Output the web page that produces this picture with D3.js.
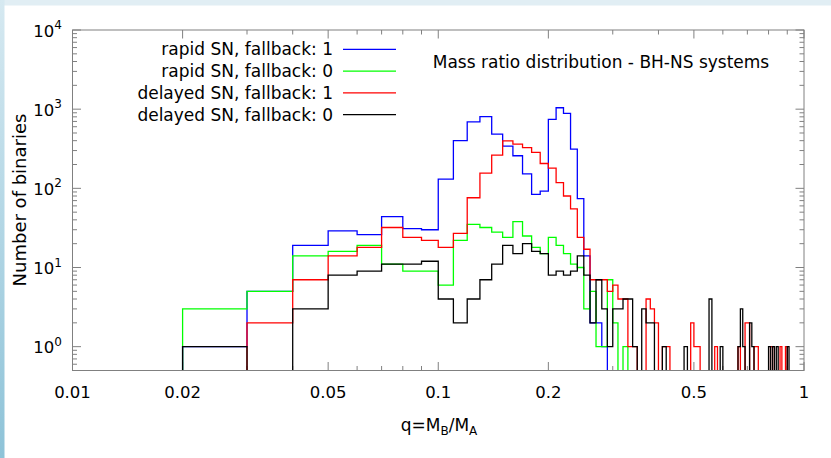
<!DOCTYPE html>
<html><head><meta charset="utf-8">
<script src="https://cdn.jsdelivr.net/npm/d3@7"></script>
<style>
body{margin:0;background:#fff}
svg{display:block}
text{font-family:"DejaVu Sans",sans-serif;fill:#000}
</style>
</head><body>
<svg id="c" width="831" height="458"></svg>
<script>
// lower edges of the q bins (width 0.01)
const binStarts = [
 0.01,0.02,0.03,0.04,0.05,0.06,0.07,0.08,0.09,0.10,
 0.11,0.12,0.13,0.14,0.15,0.16,0.17,0.18,0.19,0.20,
 0.21,0.22,0.23,0.24,0.25,0.26,0.27,0.28,0.29,0.30,
 0.31,0.32,0.33,0.34,0.35,0.36,0.37,0.38,0.39,0.40,
 0.41,0.42,0.43,0.44,0.45,0.46,0.47,0.48,0.49,0.50,
 0.51,0.52,0.53,0.54,0.55,0.56,0.57,0.58,0.59,0.60,
 0.61,0.62,0.63,0.64,0.65,0.66,0.67,0.68,0.69,0.70,
 0.71,0.72,0.73,0.74,0.75,0.76,0.77,0.78,0.79,0.80,
 0.81,0.82,0.83,0.84,0.85,0.86,0.87,0.88,0.89,0.90,
 0.91,0.92,0.93,0.94,0.95,0.96,0.97,0.98,0.99];
const binEnd = 1.0;

const rapidFb1 = [
 0,1,5,19,29,26,44,31,30,131,
 400,693,805,483,342,258,152,84,92,743,
 1042,885,313,74,14,2,2,1,0,0,
 0,0,0,0,0,0,0,0,0,0,
 0,0,0,0,0,0,0,0,0,0,
 0,0,0,0,0,0,0,0,0,0,
 0,0,0,0,0,0,0,0,0,0,
 0,0,0,0,0,0,0,0,0,0,
 0,0,0,0,0,0,0,0,0,0,
 0,0,0,0,0,0,0,0,0];
const rapidFb0 = [
 0,3,5,14,16,19,11,9,9,6,
 22,35,32,28,24,38,25,18,15,24,
 19,15,11,10,3,5,1,1,7,2,
 0,1,0,0,0,0,0,0,0,0,
 0,0,0,0,0,0,0,0,0,0,
 0,0,0,0,0,0,0,0,0,0,
 0,0,0,0,0,0,0,0,0,0,
 0,0,0,0,0,0,0,0,0,0,
 0,0,0,0,0,0,0,0,0,0,
 0,0,0,0,0,0,0,0,0];
const delayedFb1 = [
 0,0,2,7,14,18,32,24,22,18,
 27,76,156,263,397,362,326,285,206,180,
 118,80,55,24,17,7,7,7,5,6,
 4,4,1,1,0,0,4,3,2,0,
 1,1,0,0,0,0,0,0,2,1,
 1,0,0,0,0,0,1,0,0,0,
 0,0,0,0,0,1,0,0,2,2,
 0,0,1,1,0,0,0,0,0,0,
 1,1,0,0,0,1,0,0,1,0,
 0,0,0,0,0,0,0,0,0];
const delayedFb0 = [
 0,1,0,3,8,9,11,11,12,4,
 2,4,7,11,19,15,20,16,15,8,
 9,8,9,14,8,2,7,3,1,3,
 3,4,4,1,0,3,2,2,0,0,
 1,0,0,0,0,0,1,0,0,0,
 0,0,0,0,4,0,0,0,1,0,
 0,0,0,0,0,1,3,1,0,0,
 2,1,0,0,0,0,0,0,0,1,
 0,1,0,1,0,0,0,0,0,1,
 0,0,0,0,0,0,0,0,0];

const seriesNames = ["rapid SN, fallback: 1","rapid SN, fallback: 0","delayed SN, fallback: 1","delayed SN, fallback: 0"];
const seriesColors = ["#0000ff","#00ff00","#ff0000","#000000"];
const seriesValues = [rapidFb1, rapidFb0, delayedFb1, delayedFb0];

const xMajorTicks = [0.01,0.02,0.05,0.1,0.2,0.5,1];
const xMajorLabels = ["0.01","0.02","0.05","0.1","0.2","0.5","1"];
const xMinorTicks = [0.03,0.04,0.06,0.07,0.08,0.09,0.3,0.4,0.6,0.7,0.8,0.9];
const yMajorTicks = [1,10,100,1000,10000];
const yMajorExps = ["0","1","2","3","4"];
const yMinorTicks = [0.6,0.7,0.8,0.9,2,3,4,5,6,7,8,9,20,30,40,50,60,70,80,90,
  200,300,400,500,600,700,800,900,2000,3000,4000,5000,6000,7000,8000,9000];

const W=831,H=458;
const L=72.5,R=804,T=30,B=370.5;
const svg=d3.select("#c");

// page background strips
const defs=svg.append("defs");
const g1=defs.append("linearGradient").attr("id","lg").attr("x1",0).attr("y1",0).attr("x2",0).attr("y2",1);
g1.append("stop").attr("offset","0%").attr("stop-color","#d6e9f1");
g1.append("stop").attr("offset","100%").attr("stop-color","#8ec3d8");
svg.append("rect").attr("x",0).attr("y",0).attr("width",W).attr("height",H).attr("fill","#fff");
svg.append("rect").attr("x",0).attr("y",0).attr("width",W).attr("height",5.5).attr("fill","#e1eef4");
svg.append("rect").attr("x",0).attr("y",0).attr("width",4.5).attr("height",H).attr("fill","url(#lg)");

defs.append("clipPath").attr("id","clip").append("rect")
  .attr("x",L).attr("y",T).attr("width",R-L).attr("height",B-T);

const x=d3.scaleLog().domain([0.01,1]).range([L,R]);
const y=d3.scaleLog().domain([0.5,10000]).range([B,T]);

const axisCol="#808080";
const gAx=svg.append("g");
// ticks
function xt(v,len){
  gAx.append("line").attr("x1",x(v)).attr("x2",x(v)).attr("y1",B).attr("y2",B-len).attr("stroke",axisCol);
  gAx.append("line").attr("x1",x(v)).attr("x2",x(v)).attr("y1",T).attr("y2",T+len).attr("stroke",axisCol);
}
function yt(v,len){
  gAx.append("line").attr("y1",y(v)).attr("y2",y(v)).attr("x1",L).attr("x2",L+len).attr("stroke",axisCol);
  gAx.append("line").attr("y1",y(v)).attr("y2",y(v)).attr("x1",R).attr("x2",R-len).attr("stroke",axisCol);
}
xMajorTicks.forEach(v=>xt(v,8.5));
xMinorTicks.forEach(v=>xt(v,4.5));
yMajorTicks.forEach(v=>yt(v,8.5));
yMinorTicks.forEach(v=>yt(v,4.5));

xMajorTicks.forEach((v,i)=>{
  svg.append("text").attr("x",x(v)).attr("y",398).attr("text-anchor","middle")
    .attr("font-size",16.5).text(xMajorLabels[i]);
});
yMajorTicks.forEach((v,i)=>{
  const t=svg.append("text").attr("x",62).attr("y",y(v)+6.5).attr("text-anchor","end").attr("font-size",16.5);
  t.append("tspan").text("10");
  t.append("tspan").attr("dy",-7.5).attr("font-size",12).text(yMajorExps[i]);
});

// histogram steps
const plot=svg.append("g").attr("clip-path","url(#clip)");
const line=d3.line().x(d=>x(d[0])).y(d=>y(d[1]>0?d[1]:0.3)).curve(d3.curveStepAfter);
seriesValues.forEach((vals,si)=>{
  const pts=binStarts.map((q,i)=>[q,vals[i]]);
  pts.push([binEnd,vals[vals.length-1]]);
  plot.append("path").attr("d",line(pts)).attr("fill","none")
    .attr("stroke",seriesColors[si]).attr("stroke-width",1.3).attr("stroke-linejoin","miter");
});

// frame
svg.append("rect").attr("x",L).attr("y",T).attr("width",R-L).attr("height",B-T)
  .attr("fill","none").attr("stroke",axisCol).attr("stroke-width",1);

// legend
seriesNames.forEach((n,i)=>{
  const yy=49.3+i*21.8;
  svg.append("text").attr("x",333).attr("y",yy+6).attr("text-anchor","end").attr("font-size",17).text(n);
  svg.append("line").attr("x1",343).attr("x2",396).attr("y1",yy).attr("y2",yy)
    .attr("stroke",seriesColors[i]).attr("stroke-width",1.3);
});

// title
svg.append("text").attr("x",601).attr("y",68).attr("text-anchor","middle").attr("font-size",17)
  .text("Mass ratio distribution - BH-NS systems");

// axis labels
const xl=svg.append("text").attr("x",439).attr("y",431).attr("text-anchor","middle").attr("font-size",17);
xl.append("tspan").text("q=M");
xl.append("tspan").attr("dy",4).attr("font-size",12).text("B");
xl.append("tspan").attr("dy",-4).text("/M");
xl.append("tspan").attr("dy",4).attr("font-size",12).text("A");

svg.append("text").attr("transform","translate(26,200) rotate(-90)").attr("text-anchor","middle")
  .attr("font-size",18).text("Number of binaries");
</script>
</body></html>
